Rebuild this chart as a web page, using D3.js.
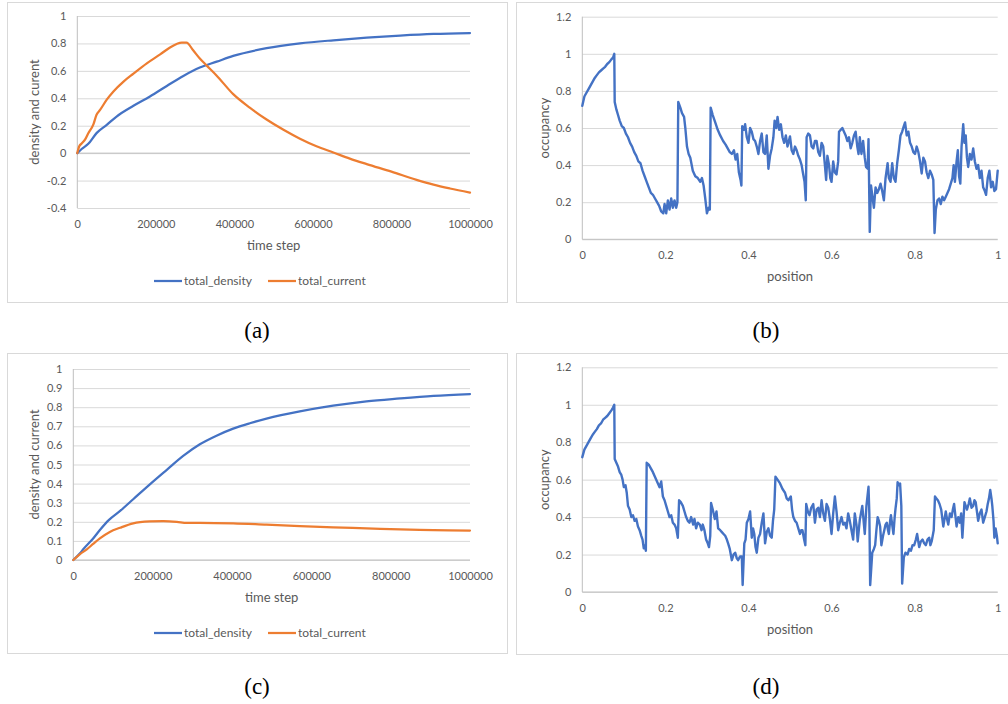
<!DOCTYPE html>
<html><head><meta charset="utf-8">
<script src="https://cdn.jsdelivr.net/npm/d3@7"></script>
<style>
html,body{margin:0;padding:0;background:#fff;}
svg{display:block;}
</style></head>
<body>
<svg id="chart" width="1008" height="704"></svg>
<script>
// ---------- DATA ----------
// Panel (a)
const timeDensityA = [0,11000,28000,49000,75000,100000,143000,185000,228000,270000,312000,355000,397000,482000,567000,652000,737000,822000,907000,1000000];
const densityA = [0,0.03,0.068,0.146,0.206,0.267,0.345,0.413,0.49,0.563,0.624,0.667,0.709,0.765,0.80,0.823,0.842,0.857,0.869,0.876];
const timeCurrentA = [0,5000,11000,20000,28000,41000,49000,58000,75000,92000,117000,143000,177000,211000,236000,253000,266000,278000,295000,312000,329000,355000,397000,440000,482000,525000,567000,609000,652000,694000,737000,800000,864000,907000,949000,1000000];
const currentA = [0,0.05,0.07,0.10,0.145,0.21,0.28,0.315,0.39,0.45,0.52,0.58,0.655,0.72,0.77,0.796,0.806,0.806,0.75,0.69,0.64,0.565,0.43,0.33,0.245,0.17,0.105,0.05,0.005,-0.04,-0.08,-0.135,-0.195,-0.23,-0.258,-0.288];
const yTicksA = [-0.4,-0.2,0,0.2,0.4,0.6,0.8,1];
// Panel (c)
const timeDensityC = [0,17000,25000,50000,67000,90000,118000,151000,193000,235000,277000,319000,361000,403000,445000,487000,571000,655000,739000,824000,908000,1000000];
const densityC = [0,0.035,0.056,0.113,0.157,0.21,0.257,0.318,0.396,0.471,0.545,0.606,0.651,0.688,0.716,0.74,0.778,0.808,0.831,0.846,0.859,0.869];
const timeCurrentC = [0,17000,34000,50000,67000,92000,118000,151000,193000,227000,261000,286000,319000,403000,487000,571000,655000,739000,824000,908000,1000000];
const currentC = [0,0.031,0.056,0.084,0.113,0.147,0.169,0.192,0.202,0.204,0.2,0.194,0.195,0.192,0.185,0.178,0.171,0.166,0.16,0.157,0.154];
const yTicksC = [0,0.1,0.2,0.3,0.4,0.5,0.6,0.7,0.8,0.9,1];
const timeTicks = [0,200000,400000,600000,800000,1000000];
// Panel (b)
const positionB = [0,0.005,0.01,0.015,0.02,0.025,0.03,0.035,0.04,0.045,0.05,0.055,0.06,0.065,0.07,0.074,0.077,0.078,0.082,0.086,0.09,0.095,0.1,0.105,0.11,0.115,0.12,0.125,0.13,0.135,0.14,0.145,0.15,0.155,0.16,0.165,0.17,0.175,0.18,0.185,0.19,0.195,0.198,0.202,0.206,0.21,0.214,0.218,0.222,0.226,0.229,0.231,0.236,0.24,0.245,0.248,0.252,0.256,0.26,0.266,0.272,0.278,0.284,0.288,0.292,0.296,0.3,0.304,0.307,0.309,0.314,0.32,0.326,0.332,0.339,0.345,0.35,0.355,0.36,0.365,0.369,0.373,0.377,0.381,0.383,0.385,0.389,0.392,0.396,0.4,0.404,0.408,0.412,0.416,0.42,0.424,0.428,0.432,0.436,0.44,0.444,0.448,0.452,0.456,0.46,0.463,0.467,0.47,0.474,0.478,0.482,0.486,0.49,0.494,0.5,0.504,0.508,0.512,0.516,0.52,0.524,0.528,0.531,0.535,0.538,0.54,0.544,0.548,0.552,0.556,0.56,0.564,0.568,0.572,0.576,0.58,0.584,0.587,0.59,0.594,0.597,0.6,0.604,0.608,0.612,0.616,0.618,0.622,0.626,0.63,0.634,0.638,0.642,0.646,0.65,0.654,0.658,0.662,0.665,0.668,0.672,0.676,0.68,0.683,0.687,0.689,0.692,0.695,0.699,0.702,0.706,0.71,0.714,0.718,0.722,0.726,0.73,0.735,0.738,0.742,0.746,0.75,0.754,0.758,0.762,0.766,0.77,0.774,0.777,0.781,0.785,0.789,0.793,0.797,0.801,0.805,0.809,0.813,0.817,0.821,0.825,0.829,0.833,0.837,0.841,0.845,0.848,0.851,0.855,0.859,0.863,0.867,0.871,0.875,0.879,0.883,0.887,0.891,0.894,0.897,0.901,0.904,0.907,0.91,0.913,0.917,0.92,0.923,0.926,0.929,0.933,0.937,0.941,0.945,0.949,0.953,0.957,0.961,0.965,0.969,0.972,0.976,0.98,0.984,0.988,0.992,0.996,0.998,1];
const occupancyB = [0.72,0.77,0.79,0.81,0.83,0.85,0.87,0.885,0.9,0.91,0.92,0.93,0.945,0.955,0.97,0.98,1,0.74,0.7,0.67,0.64,0.61,0.6,0.57,0.55,0.52,0.5,0.47,0.45,0.42,0.41,0.37,0.34,0.31,0.28,0.25,0.24,0.22,0.2,0.18,0.15,0.14,0.19,0.14,0.21,0.16,0.22,0.17,0.21,0.17,0.2,0.74,0.71,0.68,0.66,0.6,0.5,0.46,0.44,0.37,0.34,0.33,0.31,0.33,0.29,0.22,0.14,0.17,0.16,0.71,0.67,0.63,0.59,0.56,0.53,0.51,0.49,0.47,0.46,0.48,0.43,0.46,0.36,0.32,0.29,0.61,0.59,0.62,0.55,0.52,0.6,0.58,0.54,0.53,0.5,0.46,0.53,0.57,0.47,0.46,0.56,0.38,0.45,0.49,0.55,0.64,0.6,0.66,0.59,0.62,0.55,0.52,0.56,0.5,0.555,0.48,0.46,0.5,0.48,0.45,0.43,0.4,0.36,0.31,0.21,0.55,0.57,0.56,0.5,0.49,0.53,0.53,0.47,0.45,0.52,0.5,0.4,0.32,0.45,0.4,0.33,0.31,0.42,0.36,0.35,0.42,0.58,0.59,0.6,0.58,0.56,0.53,0.55,0.49,0.52,0.56,0.58,0.5,0.46,0.55,0.46,0.53,0.44,0.39,0.38,0.54,0.04,0.29,0.22,0.17,0.28,0.25,0.27,0.3,0.26,0.21,0.33,0.41,0.33,0.31,0.41,0.33,0.31,0.41,0.48,0.56,0.58,0.61,0.63,0.56,0.58,0.52,0.5,0.47,0.46,0.5,0.47,0.42,0.355,0.44,0.42,0.36,0.33,0.37,0.35,0.32,0.034,0.16,0.21,0.22,0.19,0.23,0.21,0.23,0.25,0.27,0.3,0.33,0.4,0.31,0.42,0.48,0.34,0.3,0.5,0.62,0.52,0.56,0.44,0.39,0.46,0.43,0.49,0.42,0.38,0.4,0.33,0.37,0.28,0.26,0.24,0.33,0.37,0.28,0.31,0.26,0.27,0.32,0.37];
// Panel (d)
const positionD = [0,0.005,0.01,0.015,0.02,0.025,0.03,0.035,0.04,0.045,0.05,0.055,0.06,0.065,0.07,0.074,0.077,0.078,0.082,0.086,0.09,0.094,0.097,0.1,0.104,0.107,0.11,0.114,0.118,0.122,0.126,0.13,0.134,0.138,0.142,0.145,0.148,0.151,0.153,0.155,0.16,0.165,0.17,0.174,0.178,0.182,0.186,0.19,0.194,0.198,0.202,0.206,0.21,0.214,0.218,0.222,0.226,0.23,0.233,0.237,0.242,0.246,0.25,0.254,0.258,0.262,0.267,0.27,0.274,0.278,0.283,0.287,0.29,0.294,0.298,0.302,0.305,0.308,0.31,0.314,0.319,0.323,0.327,0.332,0.336,0.34,0.344,0.348,0.351,0.355,0.36,0.364,0.368,0.372,0.375,0.38,0.384,0.386,0.39,0.393,0.396,0.4,0.404,0.408,0.411,0.414,0.417,0.42,0.424,0.428,0.432,0.436,0.44,0.444,0.448,0.452,0.456,0.459,0.462,0.465,0.47,0.476,0.482,0.488,0.492,0.496,0.502,0.505,0.508,0.512,0.516,0.52,0.524,0.527,0.53,0.534,0.537,0.539,0.543,0.547,0.551,0.556,0.56,0.564,0.568,0.572,0.576,0.58,0.584,0.588,0.592,0.596,0.6,0.604,0.608,0.612,0.616,0.62,0.624,0.628,0.632,0.636,0.64,0.644,0.648,0.652,0.656,0.66,0.663,0.668,0.674,0.68,0.684,0.689,0.691,0.693,0.698,0.702,0.705,0.708,0.711,0.714,0.717,0.72,0.724,0.727,0.73,0.733,0.736,0.738,0.741,0.743,0.746,0.749,0.752,0.754,0.757,0.759,0.762,0.765,0.768,0.77,0.774,0.778,0.783,0.787,0.791,0.795,0.799,0.803,0.806,0.811,0.815,0.819,0.823,0.827,0.831,0.835,0.838,0.841,0.846,0.849,0.852,0.856,0.86,0.864,0.869,0.875,0.878,0.881,0.885,0.889,0.892,0.895,0.898,0.901,0.905,0.909,0.912,0.915,0.92,0.926,0.93,0.933,0.937,0.941,0.944,0.947,0.95,0.953,0.957,0.961,0.965,0.969,0.973,0.976,0.979,0.982,0.985,0.987,0.99,0.992,0.995,0.998,1];
const occupancyD = [0.72,0.76,0.78,0.8,0.82,0.84,0.855,0.87,0.89,0.9,0.92,0.93,0.94,0.955,0.97,0.985,1,0.71,0.69,0.67,0.64,0.625,0.6,0.56,0.57,0.53,0.46,0.44,0.4,0.41,0.38,0.39,0.35,0.33,0.3,0.28,0.233,0.25,0.22,0.69,0.68,0.66,0.64,0.62,0.6,0.58,0.56,0.59,0.51,0.49,0.46,0.43,0.4,0.41,0.37,0.36,0.34,0.29,0.49,0.48,0.46,0.43,0.4,0.38,0.37,0.4,0.36,0.39,0.34,0.37,0.36,0.33,0.36,0.33,0.28,0.26,0.24,0.3,0.475,0.44,0.39,0.43,0.34,0.33,0.32,0.31,0.3,0.28,0.26,0.23,0.17,0.2,0.21,0.18,0.17,0.19,0.19,0.037,0.26,0.28,0.37,0.39,0.43,0.29,0.34,0.31,0.24,0.21,0.29,0.31,0.37,0.42,0.26,0.32,0.34,0.3,0.29,0.38,0.44,0.616,0.6,0.58,0.55,0.53,0.5,0.49,0.51,0.44,0.4,0.38,0.37,0.34,0.31,0.33,0.33,0.28,0.25,0.47,0.43,0.41,0.45,0.47,0.37,0.44,0.45,0.4,0.49,0.42,0.38,0.47,0.45,0.39,0.31,0.42,0.51,0.43,0.33,0.37,0.4,0.36,0.37,0.34,0.42,0.38,0.33,0.28,0.42,0.36,0.27,0.385,0.46,0.31,0.46,0.562,0.42,0.037,0.21,0.23,0.25,0.33,0.4,0.38,0.35,0.25,0.3,0.33,0.36,0.37,0.33,0.31,0.38,0.41,0.36,0.31,0.4,0.445,0.5,0.586,0.57,0.58,0.46,0.045,0.185,0.21,0.2,0.23,0.22,0.25,0.25,0.28,0.31,0.24,0.27,0.28,0.26,0.25,0.28,0.29,0.25,0.27,0.33,0.51,0.5,0.49,0.47,0.44,0.35,0.43,0.39,0.36,0.42,0.4,0.44,0.47,0.41,0.35,0.4,0.37,0.42,0.29,0.48,0.44,0.47,0.5,0.45,0.46,0.49,0.48,0.43,0.38,0.42,0.44,0.37,0.4,0.43,0.47,0.5,0.545,0.5,0.46,0.38,0.29,0.34,0.3,0.26];
const occTicks = [0,0.2,0.4,0.6,0.8,1,1.2];
const posTicks = [0,0.2,0.4,0.6,0.8,1];
const seriesNames = ["total_density","total_current"];
const captions = ["(a)","(b)","(c)","(d)"];

// ---------- STYLE ----------
const BLUE = "#4472C4", ORANGE = "#ED7D31";
const GRID = "#D9D9D9", AXIS = "#BFBFBF", TXT = "#595959";
const FONT = "Lato, 'Open Sans', sans-serif";

const svg = d3.select("#chart");
svg.append("rect").attr("width",1008).attr("height",704).attr("fill","#fff");

function fmt(d){ return String(+d.toFixed(2)); }

function panel(o){
  const g = svg.append("g");
  g.append("rect").attr("x",o.frame[0]+0.5).attr("y",o.frame[1]+0.5)
    .attr("width",o.frame[2]).attr("height",o.frame[3])
    .attr("fill","#fff").attr("stroke",GRID).attr("stroke-width",1);
  const x = d3.scaleLinear().domain(o.xDomain).range([o.l,o.r]);
  const y = d3.scaleLinear().domain(o.yDomain).range([o.b,o.t]);
  const grid = g.append("g").attr("transform",`translate(${o.l},0)`)
    .call(d3.axisLeft(y).tickValues(o.yTicks).tickSize(-(o.r-o.l)).tickFormat(""));
  grid.select(".domain").remove();
  grid.selectAll("line").attr("stroke",GRID).attr("stroke-width",1);
  g.append("line").attr("x1",o.l).attr("x2",o.r).attr("y1",y(0)).attr("y2",y(0))
    .attr("stroke",AXIS).attr("stroke-width",1);
  g.append("line").attr("x1",o.l).attr("x2",o.l).attr("y1",o.t).attr("y2",o.b)
    .attr("stroke",AXIS).attr("stroke-width",1);
  const ya = g.append("g").attr("transform",`translate(${o.l},0)`)
    .call(d3.axisLeft(y).tickValues(o.yTicks).tickSize(0).tickPadding(11).tickFormat(fmt));
  ya.select(".domain").remove();
  ya.selectAll("text").attr("fill",TXT).style("font-family",FONT).style("font-size","11px");
  const xa = g.append("g").attr("transform",`translate(0,${o.b})`)
    .call(d3.axisBottom(x).tickValues(o.xTicks).tickSize(0).tickFormat(fmt));
  xa.select(".domain").remove();
  xa.selectAll("text").attr("y",16).attr("dy","0.35em").attr("fill",TXT)
    .style("font-family",FONT).style("font-size","11px");
  g.append("text").attr("x",(o.l+o.r)/2).attr("y",o.b+37).attr("dy","0.35em")
    .attr("text-anchor","middle").attr("fill",TXT).style("font-family",FONT).style("font-size","13px")
    .text(o.xTitle);
  g.append("text").attr("transform",`translate(${o.ytx},${(o.t+o.b)/2}) rotate(-90)`)
    .attr("dy","0.35em").attr("text-anchor","middle").attr("fill",TXT)
    .style("font-family",FONT).style("font-size","13px").text(o.yTitle);
  o.series.forEach(s=>{
    const pts = s.xs.map((v,i)=>[v,s.ys[i]]);
    g.append("path").datum(pts)
      .attr("d",d3.line().x(d=>x(d[0])).y(d=>y(d[1])).curve(s.curve||d3.curveLinear))
      .attr("fill","none").attr("stroke",s.color).attr("stroke-width",s.width)
      .attr("stroke-linejoin","round").attr("stroke-linecap","round");
  });
  if(o.legendY){
    const items = [{n:seriesNames[0],c:BLUE,x:154},{n:seriesNames[1],c:ORANGE,x:268}];
    items.forEach(it=>{
      g.append("line").attr("x1",it.x).attr("x2",it.x+28).attr("y1",o.legendY).attr("y2",o.legendY)
        .attr("stroke",it.c).attr("stroke-width",2.25);
      g.append("text").attr("x",it.x+30).attr("y",o.legendY).attr("dy","0.35em")
        .attr("fill",TXT).style("font-family",FONT).style("font-size","12px").text(it.n);
    });
  }
}

panel({frame:[7,2,500,300], l:77.3, r:470, t:16, b:208, xDomain:[0,1000000], yDomain:[-0.4,1],
  yTicks:yTicksA, xTicks:timeTicks, xTitle:"time step", yTitle:"density and curent", ytx:34.5, legendY:281,
  series:[{xs:timeDensityA,ys:densityA,color:BLUE,width:2.25,curve:d3.curveMonotoneX},
          {xs:timeCurrentA,ys:currentA,color:ORANGE,width:2.25,curve:d3.curveMonotoneX}]});

panel({frame:[516,2,500,300], l:582.3, r:997.7, t:16.7, b:239.3, xDomain:[0,1], yDomain:[0,1.2],
  yTicks:occTicks, xTicks:posTicks, xTitle:"position", yTitle:"occupancy", ytx:544,
  series:[{xs:positionB,ys:occupancyB,color:BLUE,width:2.4}]});

panel({frame:[7,353,500,300], l:73.3, r:470, t:369, b:560, xDomain:[0,1000000], yDomain:[0,1],
  yTicks:yTicksC, xTicks:timeTicks, xTitle:"time step", yTitle:"density and current", ytx:34.5, legendY:633,
  series:[{xs:timeDensityC,ys:densityC,color:BLUE,width:2.25,curve:d3.curveMonotoneX},
          {xs:timeCurrentC,ys:currentC,color:ORANGE,width:2.25,curve:d3.curveMonotoneX}]});

panel({frame:[516,353,500,301], l:582.3, r:997.7, t:367.3, b:592, xDomain:[0,1], yDomain:[0,1.2],
  yTicks:occTicks, xTicks:posTicks, xTitle:"position", yTitle:"occupancy", ytx:544,
  series:[{xs:positionD,ys:occupancyD,color:BLUE,width:2.4}]});

const capPos = [[257,330],[766,330],[257,686],[766,686]];
captions.forEach((c,i)=>{
  svg.append("text").attr("x",capPos[i][0]).attr("y",capPos[i][1]).attr("dy","0.35em")
    .attr("text-anchor","middle").attr("fill","#000")
    .style("font-family","'Liberation Serif', 'DejaVu Serif', serif").style("font-size","23px").text(c);
});
</script>
</body></html>
